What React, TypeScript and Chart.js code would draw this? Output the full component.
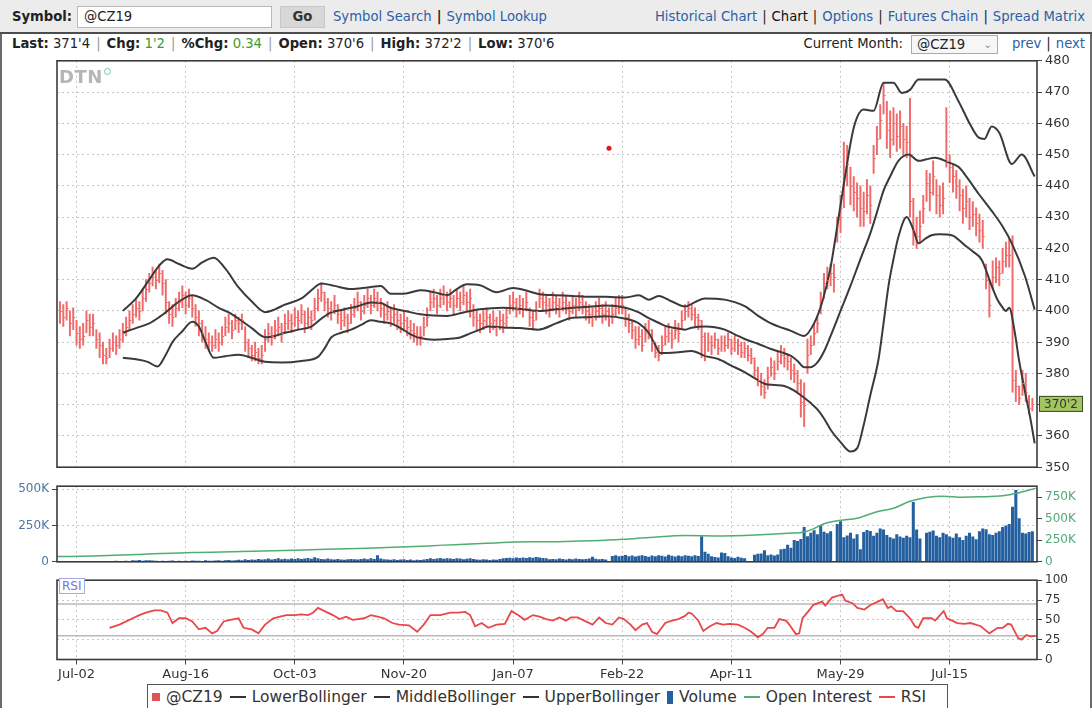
import React, { useEffect, useRef } from "react";
import { Chart, registerables } from "chart.js";

Chart.register(...registerables);

// ---------------- data ----------------
// x is a trading-day index; Jul-02 = 0, one label every 33 sessions
const tickIndex = [0, 33, 66, 99, 132, 165, 198, 231, 264];
const tickLabels = ["Jul-02", "Aug-16", "Oct-03", "Nov-20", "Jan-07", "Feb-22", "Apr-11", "May-29", "Jul-15"];
const firstBarIndex = -5;

const priceHigh = [
  403, 402, 403, 400, 401, 397, 395, 396, 400, 399,
  399, 394, 393, 390, 388, 391, 393, 392, 394, 396,
  398, 400, 402, 404, 403, 407, 410, 412, 414, 413,
  415, 413, 410, 403, 402, 404, 406, 408, 406, 407,
  405, 402, 400, 397, 395, 393, 392, 394, 393, 395,
  398, 399, 397, 399, 398, 399, 395, 391, 389, 390,
  388, 389, 394, 396, 395, 397, 398, 396, 399, 400,
  399, 401, 400, 402, 400, 401, 400, 404, 407, 409,
  406, 404, 403, 405, 402, 400, 401, 399, 402, 404,
  406, 403, 405, 407, 405, 407, 406, 404, 402, 403,
  401, 402, 400, 399, 400, 398, 397, 396, 395, 395,
  398, 401, 406, 407, 405, 407, 408, 406, 407, 405,
  407, 406, 408, 406, 407, 402, 400, 399, 400, 401,
  399, 400, 398, 400, 399, 401, 405, 406, 404, 405,
  404, 406, 401, 400, 403, 407, 406, 405, 404, 406,
  405, 404, 406, 405, 403, 405, 404, 406, 405, 403,
  402, 401, 403, 404, 402, 403, 401, 402, 404, 405,
  405, 401, 399, 397, 395, 395, 394, 396, 397, 394,
  390, 389, 392, 395, 396, 394, 397, 396, 400, 402,
  403, 402, 401, 399, 397, 393, 393, 392, 393, 391,
  392, 392, 393, 391, 392, 391, 390, 390, 389, 388,
  385, 382, 380, 378, 382, 385, 384, 387, 389, 388,
  386, 385, 383, 381, 378, 377, 391, 392, 396, 398,
  406, 412, 414, 415, 415, 430, 437, 454, 453, 446,
  443, 441, 440, 438, 442, 440, 453, 459, 466, 473,
  467, 464, 465, 463, 464, 460, 459, 468, 436, 430,
  432, 437, 445, 444, 448, 442, 440, 441, 465, 450,
  447, 445, 442, 439, 440, 436, 435, 433, 431, 429,
  415, 410, 416, 417, 416, 420, 422, 423, 424, 381,
  376, 381, 380, 373, 372,
];
const priceLow = [
  396, 395, 397, 392, 394, 389, 388, 389, 393, 392,
  392, 388, 385, 383, 383, 385, 387, 386, 388, 390,
  392, 394, 396, 398, 397, 400, 403, 406, 408, 407,
  409, 405, 399, 396, 395, 398, 400, 401, 399, 401,
  398, 395, 392, 390, 388, 387, 387, 388, 387, 389,
  392, 393, 391, 394, 393, 394, 387, 385, 384, 384,
  383, 383, 387, 390, 389, 391, 392, 390, 393, 394,
  393, 395, 394, 396, 393, 395, 394, 397, 400, 403,
  400, 398, 397, 399, 396, 394, 395, 393, 396, 398,
  400, 397, 399, 401, 399, 401, 400, 398, 396, 397,
  395, 396, 394, 393, 394, 392, 391, 390, 389, 389,
  392, 395, 400, 401, 399, 401, 402, 400, 401, 399,
  401, 400, 402, 400, 398, 395, 394, 393, 394, 395,
  393, 394, 392, 394, 393, 395, 399, 400, 398, 399,
  398, 400, 395, 394, 397, 401, 400, 399, 398, 400,
  399, 398, 400, 399, 397, 399, 398, 400, 399, 397,
  396, 395, 397, 398, 396, 397, 395, 396, 398, 399,
  399, 395, 393, 391, 388, 389, 387, 390, 391, 387,
  385, 384, 386, 389, 390, 388, 391, 390, 394, 397,
  398, 397, 395, 394, 385, 384, 387, 386, 388, 386,
  387, 387, 388, 386, 387, 386, 385, 385, 384, 383,
  379, 376, 373, 372, 375, 379, 378, 381, 383, 382,
  381, 378, 377, 374, 366, 363, 380, 386, 389, 393,
  399, 404, 407, 408, 406, 422, 425, 433, 440, 434,
  432, 430, 427, 427, 431, 428, 444, 450, 455, 463,
  452, 449, 453, 451, 452, 450, 449, 430, 421, 420,
  422, 428, 435, 432, 437, 431, 430, 431, 446, 441,
  438, 436, 432, 428, 430, 426, 427, 424, 422, 420,
  407, 398, 407, 409, 408, 412, 414, 414, 374, 371,
  370, 373, 371, 367, 368,
];
const priceClose = [
  400, 398, 401, 396, 398, 393, 391, 392, 397, 395,
  396, 391, 389, 386, 385, 388, 390, 389, 391, 393,
  395, 397, 399, 401, 400, 404, 407, 409, 411, 410,
  412, 409, 403, 399, 398, 401, 403, 405, 402, 404,
  401, 398, 396, 393, 391, 390, 389, 391, 390, 392,
  395, 396, 394, 397, 396, 397, 390, 388, 386, 387,
  385, 386, 391, 393, 392, 394, 395, 393, 396, 397,
  396, 398, 397, 399, 396, 398, 397, 401, 404, 406,
  403, 401, 400, 402, 399, 397, 398, 396, 399, 401,
  403, 400, 402, 404, 402, 404, 403, 401, 399, 400,
  398, 399, 397, 396, 397, 395, 394, 393, 392, 392,
  395, 398, 403, 404, 402, 404, 405, 403, 404, 402,
  404, 403, 405, 403, 404, 398, 397, 396, 397, 398,
  396, 397, 395, 397, 396, 398, 402, 403, 401, 402,
  401, 403, 398, 397, 400, 404, 403, 402, 401, 403,
  402, 401, 403, 402, 400, 402, 401, 403, 402, 400,
  399, 398, 400, 401, 399, 400, 398, 399, 401, 402,
  402, 398, 396, 394, 391, 392, 389, 393, 394, 390,
  387, 386, 389, 392, 393, 391, 394, 393, 397, 400,
  401, 399, 398, 397, 392, 386, 390, 389, 391, 388,
  390, 389, 391, 388, 390, 389, 387, 388, 386, 385,
  381, 378, 376, 374, 379, 382, 380, 384, 386, 385,
  384, 381, 380, 377, 371, 370, 386, 389, 393, 396,
  404, 409, 410, 412, 411, 427, 433, 446, 447, 440,
  438, 436, 433, 432, 437, 434, 449, 455, 461, 469,
  458, 455, 460, 456, 459, 455, 454, 435, 426, 424,
  427, 433, 441, 438, 443, 437, 434, 436, 448, 446,
  443, 440, 437, 433, 435, 430, 431, 428, 426, 424,
  410, 402, 411, 414, 412, 416, 418, 418, 378, 376,
  372, 377, 374, 369, 370.25,
];

// daily volume, thousands of contracts
const volumeK = [
  2, 3, 2, 4, 3, 2, 5, 3, 2, 4,
  3, 5, 4, 6, 3, 5, 4, 7, 5, 6,
  8, 6, 10, 9, 12, 8, 10, 11, 9, 7,
  6, 8, 5, 7, 9, 6, 8, 5, 7, 6,
  9, 7, 8, 6, 10, 8, 7, 9, 11, 8,
  10, 12, 9, 11, 14, 10, 18, 12, 16, 14,
  20, 15, 18, 22, 16, 19, 24, 17, 21, 18,
  23, 19, 25, 20, 22, 26, 21, 32, 24, 20,
  18, 22, 17, 15, 19, 16, 14, 18, 20, 17,
  15, 19, 22, 18, 25, 20, 45, 22, 18, 16,
  14, 17, 12, 15, 18, 13, 16, 11, 14, 12,
  15, 20, 24, 19, 22, 26, 21, 25, 23, 20,
  24, 22, 18, 21, 25, 19, 16, 14, 18, 15,
  13, 16, 14, 20, 24, 26, 28, 25, 30, 27,
  29, 26, 31, 28, 33, 30, 27, 25, 18, 20,
  17, 22, 19, 16, 21, 18, 23, 20, 17, 19,
  22, 34, 21, 18, 20, 16, 0, 40, 45, 38,
  42, 47, 39, 44, 36, 41, 46, 40, 35, 43,
  38, 45, 42, 37, 48, 41, 36, 44, 39, 46,
  42, 38, 45, 40, 176, 70, 55, 38, 33, 30,
  64, 60, 38, 30, 26, 35, 28, 24, 0, 3,
  48, 55, 57, 80, 45, 50, 44, 51, 86, 90,
  118, 96, 150, 144, 157, 239, 176, 200, 218, 190,
  250, 207, 196, 210, 0, 261, 280, 170, 182, 200,
  160, 190, 86, 205, 220, 213, 180, 200, 230, 222,
  185, 170, 160, 190, 175, 165, 180, 170, 412, 222,
  160, 0, 200, 207, 215, 180, 170, 200, 190, 175,
  165, 195, 170, 150, 180, 200, 175, 155, 210, 230,
  225, 190, 185, 200, 210, 240, 250, 260, 380, 494,
  300, 200, 195, 205, 210,
];

// [session index, open interest in thousands]
const openInterestK = [
  [-6, 60], [5, 68], [19, 85], [35, 108], [50, 118], [66, 133], [82, 152], [98, 170],
  [111, 193], [124, 215], [137, 232], [142, 232], [152, 240], [163, 255], [173, 280],
  [184, 305], [195, 300], [205, 310], [215, 330], [220, 345], [223, 385], [226, 440],
  [231, 480], [236, 505], [242, 580], [247, 620], [252, 700], [257, 745], [262, 760],
  [268, 748], [273, 752], [280, 765], [285, 800], [290, 850],
];

const upperBand = [
  [14, 400], [18, 404], [22, 410], [25, 414.5], [27.5, 416.5], [31, 415], [35, 413.5],
  [38, 415.5], [41.5, 417], [45, 413.5], [49, 407.5], [53, 403], [57, 399.6], [60, 400.5],
  [63, 402], [68, 404], [72, 407.5], [74, 408.8], [78, 408], [83, 407], [88, 407.5],
  [92, 408], [95, 405.5], [99, 405.5], [104, 406.6], [108, 406], [112, 405], [115, 407],
  [118, 408.5], [122, 408.2], [127, 406], [132, 407.3], [136, 406.5], [140, 405.3],
  [145, 405], [150, 404.8], [155, 404.5], [160, 404.5], [166, 404.3], [170, 405],
  [173, 403.6], [176, 404.8], [180, 403], [184, 401.4], [187, 402.8], [190, 404],
  [196, 403.6], [202, 401.5], [206, 398.5], [210, 396], [216, 393.6], [220, 392],
  [223, 396], [225.5, 403], [228, 414], [230, 427], [232, 440.6], [235, 458.6],
  [238, 464.4], [241, 464], [244, 473], [247, 473], [249.5, 469.7], [252, 470.7],
  [254.6, 474], [258, 474], [262.5, 474], [266.7, 467], [270, 460], [272.8, 455.4],
  [274.5, 455], [276.7, 459], [279, 457], [282.8, 447], [285.8, 450], [289.7, 443],
];
const middleBand = [
  [14, 393], [18, 394.5], [22, 396], [25, 398], [27.5, 400], [31, 403], [35, 405],
  [39, 403.5], [43, 401], [46, 399.5], [49, 397.5], [53, 394.5], [57, 391.6], [60, 392],
  [63, 393], [67, 394], [71, 395], [74, 397.5], [77, 399.5], [81, 400.5], [85, 401.5],
  [89, 402.7], [92, 402.5], [95, 401], [100, 399.8], [104, 398.9], [108, 398.5],
  [112, 398.4], [117, 399.5], [122, 400.5], [129, 401], [135, 400.5], [140, 400],
  [145, 400.5], [150, 401], [155, 401.3], [160, 401.7], [166, 401], [170, 399.5],
  [173, 397.7], [176, 396.2], [178, 395.2], [181, 394.5], [184, 394], [186, 394.6],
  [190, 395], [193, 394.8], [196, 394], [199, 392.5], [202, 391], [206, 389.5],
  [210, 387.8], [213, 386.8], [216, 385.6], [218, 384], [220, 382], [222, 382],
  [224, 383.5], [226, 387], [228, 392], [231, 400], [234, 408], [237, 416.5],
  [240, 424.8], [242, 431.5], [244, 438.5], [246, 443], [248.5, 448], [251.6, 450],
  [254.6, 448], [257, 448.5], [259.5, 449], [263.7, 447.5], [266.7, 446], [269, 443],
  [272.8, 437.4], [276.7, 432], [280, 427], [282.8, 421.6], [286.8, 411], [289.7, 400.4],
];
const lowerBand = [
  [14, 385], [18, 384.5], [21.5, 383.7], [24.5, 382.2], [27, 386], [29, 390], [32, 393.5],
  [35, 396.5], [37, 395], [39, 390], [41.5, 385], [45, 385.5], [49, 386], [53, 385],
  [57, 383.7], [62, 383.5], [68, 384], [73, 385.3], [75, 388], [77, 391.5], [80, 393],
  [83, 394], [86, 395.5], [89, 397], [92, 396.5], [95, 396], [98, 394.5], [101, 392.5],
  [104, 391.3], [108, 390.8], [112, 391], [116, 391.5], [119, 392.8], [122, 394],
  [124.5, 395], [129, 394.7], [134, 394.5], [139.6, 394], [145, 396], [150, 397.8],
  [155, 398], [160, 398.3], [166, 397.5], [170, 396], [173, 393], [175, 389],
  [176.5, 386.5], [180, 386.6], [184, 387], [186, 387.2], [190, 385.6], [194, 384.6],
  [198, 382.5], [202, 380.4], [205, 378.5], [208, 376.7], [211, 376.3], [214, 376],
  [217, 374.5], [219, 373], [222, 370.5], [224, 368.5], [226, 365.6], [228, 362],
  [231, 358], [234, 355], [236, 356], [238, 363.5], [240, 373], [242.5, 384.6],
  [244, 396], [245.5, 408], [247, 416.5], [248.5, 423.7], [251, 430], [253, 426],
  [254.6, 421.6], [256.5, 423], [258.5, 424.2], [261, 424.5], [264.6, 424.2],
  [268.6, 421], [271, 419], [273.7, 416.3], [276.7, 408], [278.5, 403.5], [279.7, 401.5],
  [281, 400], [282, 401], [283.7, 393], [285, 384], [286.8, 374], [288.5, 365], [289.7, 357.6],
];

const rsiLine = [
  [10, 40], [13, 44], [15, 48], [17, 52], [19, 56], [21, 59], [23.5, 62], [25.5, 62],
  [27.5, 59], [29, 46], [31, 52], [33, 52], [35, 48], [37, 38], [39, 40], [41, 33],
  [42.5, 36], [44.5, 48], [46.5, 50], [49, 52], [50.5, 40], [53, 38], [55, 33], [57, 44],
  [59.5, 52], [61.5, 54], [63.5, 56], [66, 56], [68, 57], [70, 56], [71.5, 59], [73, 65],
  [75, 61], [77.5, 56], [79.5, 51], [81.5, 54], [83.5, 50], [87, 52], [89, 56], [91, 54],
  [93, 52], [95.5, 46], [97.5, 44], [100.5, 43], [103, 35], [105, 44], [107, 56],
  [110, 56], [113, 59], [115.5, 59], [117.5, 60], [119, 56], [120.5, 42], [122.5, 46],
  [124.5, 40], [127, 44], [129.5, 45], [131.5, 61], [133.5, 56], [135.5, 50], [138, 56],
  [140, 54], [142, 51], [144, 49], [146, 53], [148, 49], [149.5, 53], [151.5, 53],
  [153.5, 49], [156, 44], [158, 53], [160, 46], [162, 44], [164, 53], [165.5, 51],
  [167.5, 44], [169, 37], [171, 44], [172.5, 46], [174, 35], [175.5, 32], [178, 46],
  [180, 49], [182, 51], [184, 55], [185, 59], [186, 58], [188, 49], [189.5, 36],
  [191.5, 42], [193.5, 46], [195.5, 44], [197.5, 45], [200, 44], [202, 40], [204, 35],
  [206, 28], [207.5, 32], [209, 40], [211, 40], [212.5, 51], [214.5, 49], [215.5, 44],
  [217.5, 32], [218.5, 33], [219.5, 52], [221.3, 61], [222.8, 69], [225.4, 73],
  [226.4, 68], [228.4, 78], [231.5, 82], [232.5, 74], [234.6, 71], [236.1, 65],
  [238.2, 63], [240.2, 69], [242.8, 74], [243.8, 76], [245.3, 65], [246.3, 67],
  [247.9, 61], [249.9, 61], [252, 52], [253.5, 42], [254.5, 40], [256, 52], [258.6, 52],
  [259.6, 49], [262.2, 61], [263.2, 52], [266.3, 46], [268.3, 45], [270.3, 46],
  [273.4, 42], [276, 33], [278.5, 40], [280.1, 40], [281.6, 45], [282.6, 44], [284.7, 27],
  [285.7, 25], [287.2, 31], [288.7, 29], [290, 30],
];

const priceTicks = [350, 360, 370, 380, 390, 400, 410, 420, 430, 440, 450, 460, 470, 480];
const volumeTicks = [0, 250000, 500000];
const oiTicks = [0, 250000, 500000, 750000];
const rsiTicks = [0, 25, 50, 75, 100];
const rsiLevels = [30, 70];
const strayPoint = [161, 452];
const lastPriceLabel = "370'2";

const legendItems = [
  { label: "@CZ19", color: "#e05454", kind: "square" },
  { label: "LowerBollinger", color: "#333333", kind: "line" },
  { label: "MiddleBollinger", color: "#333333", kind: "line" },
  { label: "UpperBollinger", color: "#333333", kind: "line" },
  { label: "Volume", color: "#24609f", kind: "bar" },
  { label: "Open Interest", color: "#4fae72", kind: "line" },
  { label: "RSI", color: "#e8474b", kind: "line" },
];

// ---------------- styling ----------------
const X_MIN = -5.9;
const X_MAX = 290.4;
const FONT = "'DejaVu Sans', Verdana, sans-serif";
const PRICE_COLOR = "#f06a6a";
const BAND_COLOR = "#3a3a3a";
const GRID_COLOR = "#c6c6c6";
const LINK = "#2d5fa6";
const HEAD_SIZE = 13.2;

const fixedTicks = (values: number[]) => (scale: any) => {
  scale.ticks = values.map((v) => ({ value: v }));
};

const xScale = (showLabels: boolean) => ({
  type: "linear",
  min: X_MIN,
  max: X_MAX,
  offset: false,
  grid: {
    display: true,
    offset: false,
    color: GRID_COLOR,
    lineWidth: 1,
    drawTicks: showLabels,
    tickLength: 5,
    tickColor: "#444",
    tickBorderDash: [],
  },
  border: { display: false, dash: [2, 3] },
  ticks: {
    display: showLabels,
    autoSkip: false,
    maxRotation: 0,
    padding: 2,
    color: "#333",
    font: { family: FONT, size: 13 },
    callback: (v: number) => {
      const k = tickIndex.indexOf(v);
      return k >= 0 ? tickLabels[k] : "";
    },
  },
  afterBuildTicks: fixedTicks(tickIndex),
  afterFit: (s: any) => {
    s.height = showLabels ? 22.5 : 0;
  },
});

const framePlugin = {
  id: "frame",
  afterDraw(chart: any) {
    const { ctx, chartArea: a } = chart;
    ctx.save();
    ctx.strokeStyle = "#3b3b3b";
    ctx.lineWidth = 1.6;
    ctx.strokeRect(a.left, a.top, a.right - a.left, a.bottom - a.top);
    ctx.restore();
  },
};

const closeTickPlugin = {
  id: "closeTicks",
  afterDatasetsDraw(chart: any) {
    const xs = chart.scales.x;
    const ys = chart.scales.y;
    const ctx = chart.ctx;
    ctx.save();
    ctx.strokeStyle = PRICE_COLOR;
    ctx.lineWidth = 1;
    ctx.beginPath();
    priceClose.forEach((c, k) => {
      const px = xs.getPixelForValue(firstBarIndex + k);
      const py = Math.round(ys.getPixelForValue(c)) + 0.5;
      ctx.moveTo(px, py);
      ctx.lineTo(px + 2, py);
    });
    ctx.stroke();
    ctx.restore();
  },
};

const lastLabelPlugin = {
  id: "lastLabel",
  afterDraw(chart: any) {
    const ys = chart.scales.y;
    const a = chart.chartArea;
    const ctx = chart.ctx;
    const y = ys.getPixelForValue(priceClose[priceClose.length - 1]);
    ctx.save();
    ctx.fillStyle = "#a2c65f";
    ctx.strokeStyle = "#3d4a2a";
    ctx.lineWidth = 1;
    ctx.fillRect(a.right + 2, y - 8, 44, 16);
    ctx.strokeRect(a.right + 2.5, y - 7.5, 43, 15);
    ctx.fillStyle = "#333";
    ctx.font = `12px ${FONT}`;
    ctx.textBaseline = "middle";
    ctx.textAlign = "center";
    ctx.fillText(lastPriceLabel, a.right + 24, y + 0.5);
    ctx.restore();
  },
};

const rsiLevelPlugin = {
  id: "rsiLevels",
  beforeDatasetsDraw(chart: any) {
    const ys = chart.scales.y;
    const a = chart.chartArea;
    const ctx = chart.ctx;
    ctx.save();
    ctx.strokeStyle = "#b9b9b9";
    ctx.lineWidth = 1.5;
    rsiLevels.forEach((lv) => {
      const y = ys.getPixelForValue(lv);
      ctx.beginPath();
      ctx.moveTo(a.left, y);
      ctx.lineTo(a.right, y);
      ctx.stroke();
    });
    ctx.restore();
  },
};

const baseOptions = (padding: any) => ({
  responsive: false,
  animation: false,
  events: [],
  layout: { padding },
  plugins: { legend: { display: false }, tooltip: { enabled: false } },
});

const toXY = (arr: number[][]) => arr.map(([x, y]) => ({ x, y }));

function PriceChart() {
  const ref = useRef<HTMLCanvasElement>(null);
  useEffect(() => {
    const chart = new Chart(ref.current as HTMLCanvasElement, {
      type: "bar",
      data: {
        datasets: [
          {
            type: "bar",
            data: priceHigh.map((h, k) => ({ x: firstBarIndex + k, y: [priceLow[k], h] })),
            backgroundColor: PRICE_COLOR,
            borderWidth: 0,
            barThickness: 1.3,
            order: 3,
          } as any,
          {
            type: "line",
            data: toXY(lowerBand),
            borderColor: BAND_COLOR,
            borderWidth: 2,
            pointRadius: 0,
            cubicInterpolationMode: "monotone",
            order: 1,
          },
          {
            type: "line",
            data: toXY(middleBand),
            borderColor: BAND_COLOR,
            borderWidth: 2,
            pointRadius: 0,
            cubicInterpolationMode: "monotone",
            order: 1,
          },
          {
            type: "line",
            data: toXY(upperBand),
            borderColor: BAND_COLOR,
            borderWidth: 2,
            pointRadius: 0,
            cubicInterpolationMode: "monotone",
            order: 1,
          },
          {
            type: "line",
            data: [{ x: strayPoint[0], y: strayPoint[1] }],
            showLine: false,
            pointRadius: 2.5,
            pointBackgroundColor: "#e01818",
            pointBorderWidth: 0,
            order: 0,
          },
        ],
      },
      options: {
        ...baseOptions({ left: 57, top: 9, right: 0, bottom: 9 }),
        scales: {
          x: xScale(false),
          y: {
            type: "linear",
            position: "right",
            min: 350,
            max: 480,
            grid: { color: GRID_COLOR, drawTicks: true, tickLength: 5, tickColor: "#444", tickBorderDash: [] },
            border: { display: false, dash: [2, 3] },
            ticks: { color: "#333", font: { family: FONT, size: 13 }, padding: 3 },
            afterBuildTicks: fixedTicks(priceTicks),
            afterFit: (s: any) => {
              s.width = 55;
            },
          },
        },
      } as any,
      plugins: [closeTickPlugin, framePlugin, lastLabelPlugin],
    });
    return () => chart.destroy();
  }, []);
  return (
    <canvas ref={ref} width={1092} height={428} style={{ position: "absolute", left: 0, top: 50 }} />
  );
}

function VolumeChart() {
  const ref = useRef<HTMLCanvasElement>(null);
  useEffect(() => {
    const kFmt = (v: number) => (v === 0 ? "0" : `${v / 1000}K`);
    const chart = new Chart(ref.current as HTMLCanvasElement, {
      type: "bar",
      data: {
        datasets: [
          {
            type: "line",
            data: openInterestK.map(([x, y]) => ({ x, y: y * 1000 })),
            yAxisID: "oi",
            borderColor: "#4fae72",
            borderWidth: 1.5,
            pointRadius: 0,
            cubicInterpolationMode: "monotone",
            order: 0,
          },
          {
            type: "bar",
            data: volumeK.map((v, k) => ({ x: firstBarIndex + k, y: v * 1000 })),
            yAxisID: "y",
            backgroundColor: "#24609f",
            borderWidth: 0,
            barPercentage: 0.92,
            categoryPercentage: 1,
            order: 1,
          } as any,
        ],
      },
      options: {
        ...baseOptions({ left: 0, top: 6.7, right: 0, bottom: 7.7 }),
        scales: {
          x: xScale(false),
          y: {
            type: "linear",
            position: "left",
            min: 0,
            max: 521000,
            grid: { color: GRID_COLOR, drawTicks: true, tickLength: 5, tickColor: "#444", tickBorderDash: [] },
            border: { display: false, dash: [2, 3] },
            ticks: { color: "#4e75a5", font: { family: FONT, size: 12 }, padding: 3, callback: kFmt },
            afterBuildTicks: fixedTicks(volumeTicks),
            afterFit: (s: any) => {
              s.width = 57;
            },
          },
          oi: {
            type: "linear",
            position: "right",
            min: 0,
            max: 875000,
            grid: { drawOnChartArea: false, drawTicks: true, tickLength: 5, tickColor: "#444" },
            border: { display: false },
            ticks: { color: "#52aa78", font: { family: FONT, size: 12 }, padding: 3, callback: kFmt },
            afterBuildTicks: fixedTicks(oiTicks),
            afterFit: (s: any) => {
              s.width = 55;
            },
          },
        },
      } as any,
      plugins: [framePlugin],
    });
    return () => chart.destroy();
  }, []);
  return (
    <canvas ref={ref} width={1092} height={96} style={{ position: "absolute", left: 0, top: 476 }} />
  );
}

function RsiChart() {
  const ref = useRef<HTMLCanvasElement>(null);
  useEffect(() => {
    const chart = new Chart(ref.current as HTMLCanvasElement, {
      type: "line",
      data: {
        datasets: [
          {
            data: toXY(rsiLine),
            borderColor: "#e8474b",
            borderWidth: 1.8,
            pointRadius: 0,
            tension: 0,
          },
        ],
      },
      options: {
        ...baseOptions({ left: 57, top: 6.7, right: 0, bottom: 0 }),
        scales: {
          x: xScale(true),
          y: {
            type: "linear",
            position: "right",
            min: 0,
            max: 100,
            grid: { color: GRID_COLOR, drawTicks: true, tickLength: 5, tickColor: "#444", tickBorderDash: [] },
            border: { display: false, dash: [2, 3] },
            ticks: { color: "#333", font: { family: FONT, size: 12 }, padding: 3 },
            afterBuildTicks: fixedTicks(rsiTicks),
            afterFit: (s: any) => {
              s.width = 55;
            },
          },
        },
      } as any,
      plugins: [rsiLevelPlugin, framePlugin],
    });
    return () => chart.destroy();
  }, []);
  return (
    <canvas ref={ref} width={1092} height={112} style={{ position: "absolute", left: 0, top: 570 }} />
  );
}

const Sep = ({ bold }: { bold?: boolean }) => (
  <span style={{ color: "#222", fontWeight: bold ? "bold" : "normal", margin: "0 5px" }}>|</span>
);

function Header() {
  const txt: any = { position: "absolute", fontSize: HEAD_SIZE, lineHeight: "16px", whiteSpace: "nowrap" };
  const lab: any = { fontWeight: "bold", color: "#222" };
  const val: any = { color: "#222" };
  const grn: any = { color: "#3a9a3a" };
  const bar = <span style={{ color: "#999", margin: "0 6px" }}>|</span>;
  return (
    <>
      <div
        style={{
          position: "absolute",
          left: 0,
          top: 0,
          width: 1092,
          height: 34,
          background: "#ececec",
          borderBottom: "2px solid #4d4d4d",
          boxSizing: "border-box",
        }}
      >
        <span style={{ ...txt, left: 12, top: 9, fontWeight: "bold", color: "#222" }}>Symbol:</span>
        <div
          style={{
            position: "absolute",
            left: 77,
            top: 6,
            width: 195,
            height: 22,
            background: "#fff",
            border: "1px solid #b8b8b8",
            boxSizing: "border-box",
          }}
        >
          <span style={{ ...txt, left: 6, top: 2, color: "#222" }}>@CZ19</span>
        </div>
        <div
          style={{
            position: "absolute",
            left: 280,
            top: 6,
            width: 45,
            height: 22,
            background: "#d8d8d8",
            border: "1px solid #c6c6c6",
            boxSizing: "border-box",
            textAlign: "center",
            lineHeight: "20px",
            fontWeight: "bold",
            fontSize: HEAD_SIZE,
            color: "#333",
          }}
        >
          Go
        </div>
        <span style={{ ...txt, left: 333, top: 9, color: LINK }}>
          Symbol Search
          <Sep bold />
          Symbol Lookup
        </span>
        <span style={{ ...txt, right: 7, top: 9, color: LINK }}>
          Historical Chart
          <Sep />
          <span style={{ color: "#111" }}>Chart</span>
          <Sep />
          Options
          <Sep />
          Futures Chain
          <Sep />
          Spread Matrix
        </span>
      </div>
      <span style={{ ...txt, left: 12, top: 36 }}>
        <span style={lab}>Last:</span> <span style={val}>371'4</span>
        {bar}
        <span style={lab}>Chg:</span> <span style={grn}>1'2</span>
        {bar}
        <span style={lab}>%Chg:</span> <span style={grn}>0.34</span>
        {bar}
        <span style={lab}>Open:</span> <span style={val}>370'6</span>
        {bar}
        <span style={lab}>High:</span> <span style={val}>372'2</span>
        {bar}
        <span style={lab}>Low:</span> <span style={val}>370'6</span>
      </span>
      <span style={{ ...txt, right: 189, top: 36, color: "#222" }}>Current Month:</span>
      <div
        style={{
          position: "absolute",
          left: 911,
          top: 35,
          width: 87,
          height: 19,
          border: "1px solid #aaa",
          background: "#f6f6f6",
          boxSizing: "border-box",
        }}
      >
        <span style={{ ...txt, left: 5, top: 1, color: "#222" }}>@CZ19</span>
        <span style={{ ...txt, right: 5, top: 1, color: "#888", fontSize: 10 }}>&#8964;</span>
      </div>
      <span style={{ ...txt, right: 7, top: 36, color: LINK }}>
        prev
        <Sep />
        next
      </span>
    </>
  );
}

function Legend() {
  return (
    <div
      style={{
        position: "absolute",
        left: 147,
        top: 684,
        width: 801,
        height: 30,
        border: "1px solid #555",
        boxSizing: "border-box",
        background: "#fff",
        display: "flex",
        alignItems: "flex-start",
        paddingLeft: 4,
        paddingTop: 3,
        fontSize: 15.5,
        lineHeight: "18px",
        color: "#333",
        whiteSpace: "nowrap",
      }}
    >
      {legendItems.map((it) => (
        <span key={it.label} style={{ display: "inline-flex", alignItems: "center", marginRight: 7 }}>
          {it.kind === "square" && (
            <span style={{ display: "inline-block", width: 8, height: 8, background: it.color, marginRight: 6 }} />
          )}
          {it.kind === "bar" && (
            <span style={{ display: "inline-block", width: 6, height: 13, background: it.color, marginRight: 6 }} />
          )}
          {it.kind === "line" && (
            <span style={{ display: "inline-block", width: 16, height: 2, background: it.color, marginRight: 6 }} />
          )}
          {it.label}
        </span>
      ))}
    </div>
  );
}

export default function App() {
  useEffect(() => {
    document.body.style.margin = "0";
  }, []);
  return (
    <div
      style={{
        position: "relative",
        width: 1092,
        height: 708,
        overflow: "hidden",
        background: "#fff",
        fontFamily: FONT,
      }}
    >
      <Header />
      <div
        style={{
          position: "absolute",
          left: 0,
          top: 34,
          width: 1092,
          height: 674,
          borderLeft: "2px solid #6a6a6a",
          borderRight: "2px solid #6a6a6a",
          boxSizing: "border-box",
        }}
      />
      <PriceChart />
      <VolumeChart />
      <RsiChart />
      <div
        style={{
          position: "absolute",
          left: 59,
          top: 66,
          fontSize: 18,
          fontWeight: "bold",
          color: "#b5b5b5",
          letterSpacing: 0.5,
        }}
      >
        DTN
        <span
          style={{
            position: "absolute",
            left: 45,
            top: 2,
            width: 5,
            height: 5,
            borderRadius: "50%",
            border: "1.5px solid #7cc6a0",
          }}
        />
      </div>
      <div
        style={{
          position: "absolute",
          left: 59,
          top: 578,
          padding: "0 2px",
          border: "1px solid #a8a8e8",
          color: "#7474d6",
          fontSize: 12,
          lineHeight: "14px",
          background: "#fff",
        }}
      >
        RSI
      </div>
      <Legend />
    </div>
  );
}
